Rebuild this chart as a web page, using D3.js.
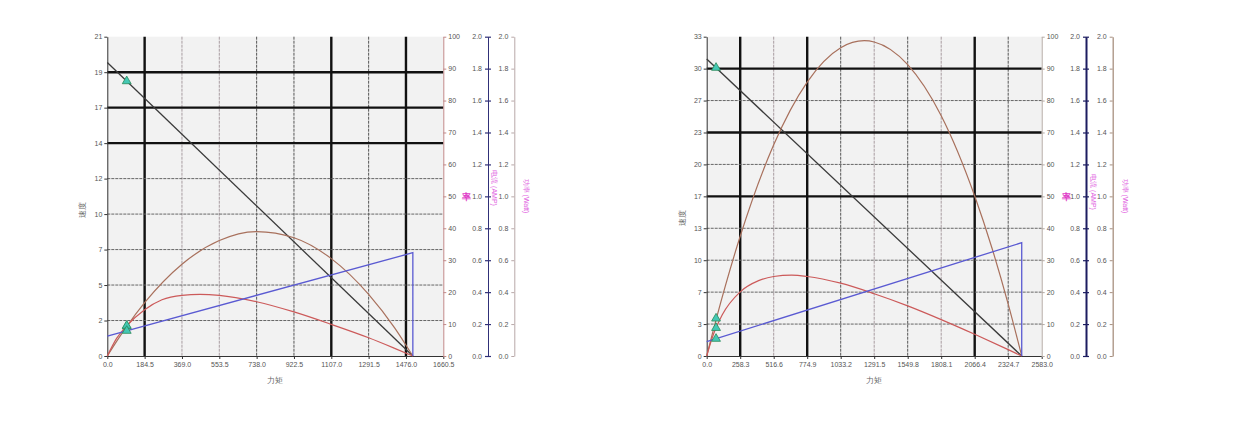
<!DOCTYPE html>
<html><head><meta charset="utf-8">
<script src="https://cdn.jsdelivr.net/npm/d3@7"></script>
<style>body{margin:0;background:#fff;} svg{display:block;} text{font-family:"Liberation Sans",Arial,sans-serif;}</style>
</head><body><svg id="c" width="1240" height="432"></svg>
<script>
// ---------- Chart A data ----------
const aXLabels = ["0.0","184.5","369.0","553.5","738.0","922.5","1107.0","1291.5","1476.0","1660.5"];
const aYLabels = ["0","2","5","7","10","12","14","17","19","21"];
const aXMax = 1660.5;
const aYMax = 21.4;
const aSpeedTorque = [0, 1510];
const aSpeed = [19.67, 0];
const aCurrentTorque = [0, 1510, 1510];
const aCurrent = [0.125, 0.647, 0];
const aPowerTorque = [0, 46, 92, 184.5, 369, 553.5, 738, 922.5, 1107, 1291.5, 1420, 1470, 1510];
const aPower = [0, 0.092, 0.178, 0.334, 0.575, 0.723, 0.779, 0.741, 0.610, 0.386, 0.176, 0.080, 0];
const aEffTorque = [0, 46, 92, 184.5, 270, 369, 458, 553.5, 738, 922.5, 1107, 1291.5, 1420, 1510];
const aEff = [0, 5.5, 9.2, 14.5, 17.6, 19.0, 19.3, 19.0, 17.0, 13.8, 9.9, 5.7, 2.4, 0];
const aMarkTorque = 96;
const aMarkSpeed = 18.42, aMarkPower = 0.186, aMarkEff = 9.5, aMarkCurrent = 0.158;

// ---------- Chart B data ----------
const bXLabels = ["0.0","258.3","516.6","774.9","1033.2","1291.5","1549.8","1808.1","2066.4","2324.7","2583.0"];
const bYLabels = ["0","3","7","10","13","17","20","23","27","30","33"];
const bXMax = 2583.0;
const bYMax = 33.4;
const bSpeedTorque = [0, 2429];
const bSpeed = [31.07, 0];
const bCurrentTorque = [0, 2429, 2429];
const bCurrent = [0.09, 0.71, 0];
const bPowerTorque = [0, 40, 77, 258.3, 516.6, 774.9, 1033.2, 1215, 1291.5, 1549.8, 1808.1, 2066.4, 2200, 2324.7, 2429];
const bPower = [0, 0.128, 0.242, 0.750, 1.323, 1.716, 1.931, 1.975, 1.967, 1.825, 1.505, 1.002, 0.675, 0.325, 0];
const bEffTorque = [0, 40, 120, 258.3, 400, 516.6, 655, 774.9, 1033.2, 1291.5, 1549.8, 1808.1, 2066.4, 2324.7, 2429];
const bEff = [0, 5.4, 12.9, 20.1, 23.6, 24.9, 25.3, 24.9, 22.8, 19.5, 15.7, 11.4, 6.8, 2.0, 0];
const bMarkTorque = 72;
const bMarkSpeed = 30.15, bMarkPower = 0.235, bMarkEff = 8.8, bMarkCurrent = 0.108;

// ---------- shared axis labels ----------
const effLabels = ["0","10","20","30","40","50","60","70","80","90","100"];
const ampLabels = ["0.0","0.2","0.4","0.6","0.8","1.0","1.2","1.4","1.6","1.8","2.0"];
const wattLabels = ["0.0","0.2","0.4","0.6","0.8","1.0","1.2","1.4","1.6","1.8","2.0"];
const txtSpeed = "速度", txtTorque = "力矩", txtEff = "率", txtAmp = "电流 (AMP)", txtWatt = "功率 (Watt)";

const zip = (xs, ys) => xs.map((v, i) => [v, ys[i]]);

const svg = d3.select("#c");

function drawChart(c) {
  const g = svg.append("g");
  const top = 36.7, bottom = 356;
  const x = d3.scaleLinear().domain([0, c.xMax]).range([c.left, c.right]);
  const y = d3.scaleLinear().domain([0, c.yMax]).range([bottom, top]);
  const yEff = d3.scaleLinear().domain([0, 100]).range([bottom, top]);
  const yAmp = d3.scaleLinear().domain([0, 2]).range([bottom, top]);
  const yW = d3.scaleLinear().domain([0, 2]).range([bottom, top]);

  g.append("rect").attr("x", c.left).attr("y", top).attr("width", c.right - c.left).attr("height", bottom - top).attr("fill", "#f2f2f2");

  const xVals = c.xLabels.map((d, i) => i * c.xMax / (c.xLabels.length - 1));
  const yVals = c.yLabels.map((d, i) => i * c.yMax / (c.yLabels.length - 1));

  // grid
  xVals.forEach((v, i) => {
    if (i === 0 || i === xVals.length - 1) return;
    const st = c.vStyle[i];
    g.append("line").attr("x1", x(v)).attr("x2", x(v)).attr("y1", top).attr("y2", bottom)
      .attr("stroke", st === 2 ? "#111" : (st === 1 ? "#555" : "#a89ca0"))
      .attr("stroke-width", st === 2 ? 2.4 : 1)
      .attr("stroke-dasharray", st === 2 ? null : "3,1");
  });
  yVals.forEach((v, i) => {
    if (i === 0 || i === yVals.length - 1) return;
    const st = c.hStyle[i];
    g.append("line").attr("y1", y(v)).attr("y2", y(v)).attr("x1", c.left).attr("x2", c.right)
      .attr("stroke", st === 2 ? "#111" : "#666")
      .attr("stroke-width", st === 2 ? 2.4 : 1)
      .attr("stroke-dasharray", st === 2 ? null : "3,1");
  });

  const styleAxis = (sel, col, w) => {
    sel.selectAll("path").attr("stroke", col).attr("stroke-width", w);
    sel.selectAll("line").attr("stroke", col);
    sel.selectAll("text").attr("fill", "#555").style("font-size", "7px");
  };

  // bottom axis
  const ax = g.append("g").attr("transform", `translate(0,${bottom})`)
    .call(d3.axisBottom(x).tickValues(xVals).tickFormat((d, i) => c.xLabels[i]).tickSizeInner(3).tickSizeOuter(0).tickPadding(3));
  styleAxis(ax, "#333", 1);
  // left axis
  const ay = g.append("g").attr("transform", `translate(${c.left},0)`)
    .call(d3.axisLeft(y).tickValues(yVals).tickFormat((d, i) => c.yLabels[i]).tickSizeInner(3).tickSizeOuter(0).tickPadding(2));
  styleAxis(ay, "#333", 1);
  // efficiency axis
  const effVals = effLabels.map((d, i) => i * 10);
  const ae = g.append("g").attr("transform", `translate(${c.right},0)`)
    .call(d3.axisRight(yEff).tickValues(effVals).tickFormat((d, i) => effLabels[i]).tickSizeInner(3).tickSizeOuter(0).tickPadding(2));
  styleAxis(ae, c.effCol, 1);
  // current axis
  const ampVals = ampLabels.map((d, i) => i * 0.2);
  const aa = g.append("g").attr("transform", `translate(${c.ampX},0)`)
    .call(d3.axisLeft(yAmp).tickValues(ampVals).tickFormat((d, i) => ampLabels[i]).tickSizeInner(3).tickSizeOuter(0).tickPadding(3));
  styleAxis(aa, c.ampCol, c.ampW);
  aa.selectAll(".tick line").attr("x1", 3).attr("stroke-width", 1.2);
  // power axis
  const wVals = wattLabels.map((d, i) => i * 0.2);
  const aw = g.append("g").attr("transform", `translate(${c.wX},0)`)
    .call(d3.axisLeft(yW).tickValues(wVals).tickFormat((d, i) => wattLabels[i]).tickSizeInner(3).tickSizeOuter(0).tickPadding(3));
  styleAxis(aw, c.wCol, c.wW);

  // titles
  g.append("text").attr("x", (c.left + c.right) / 2).attr("y", 383).attr("text-anchor", "middle")
    .attr("fill", "#666").style("font-size", "8px").text(txtTorque);
  g.append("text").attr("transform", `translate(${c.left - 22},${c.speedLabelY}) rotate(-90)`).attr("text-anchor", "middle")
    .attr("fill", "#666").style("font-size", "8px").text(txtSpeed);
  g.append("text").attr("x", c.starX).attr("y", 200).attr("text-anchor", "middle")
    .attr("fill", "#e040c8").style("font-size", "9px").style("font-weight", "bold").text(txtEff);
  g.append("text").attr("transform", `translate(${c.ampLabelX},${c.ampLabelY}) rotate(90)`).attr("text-anchor", "middle")
    .attr("fill", "#e060e0").style("font-size", "7px").text(txtAmp);
  g.append("text").attr("transform", `translate(${c.wLabelX},196) rotate(90)`).attr("text-anchor", "middle")
    .attr("fill", "#e060e0").style("font-size", "7px").text(txtWatt);

  // curves
  const lineS = d3.line().x(d => x(d[0])).y(d => y(d[1]));
  const lineP = d3.line().x(d => x(d[0])).y(d => yW(d[1])).curve(d3.curveMonotoneX);
  const lineE = d3.line().x(d => x(d[0])).y(d => yEff(d[1])).curve(d3.curveMonotoneX);
  const lineC = d3.line().x(d => x(d[0])).y(d => yAmp(d[1]));

  g.append("path").attr("d", lineS(zip(c.speedT, c.speed))).attr("fill", "none").attr("stroke", "#3a3a3a").attr("stroke-width", 1.3);
  g.append("path").attr("d", lineP(zip(c.powerT, c.power))).attr("fill", "none").attr("stroke", "#a8705c").attr("stroke-width", 1.2);
  g.append("path").attr("d", lineE(zip(c.effT, c.eff))).attr("fill", "none").attr("stroke", "#cc5a5a").attr("stroke-width", 1.2);
  g.append("path").attr("d", lineC(zip(c.curT, c.cur))).attr("fill", "none").attr("stroke", "#5a5ad2").attr("stroke-width", 1.3);

  // markers
  const marks = [[c.mT, y(c.mSpeed)], [c.mT, yW(c.mPower)], [c.mT, yEff(c.mEff)], [c.mT, yAmp(c.mCur)]];
  const sym = d3.symbol().type(d3.symbolTriangle).size(34);
  g.selectAll(".mk").data(marks).join("path")
    .attr("transform", d => `translate(${x(d[0])},${d[1]})`).attr("d", sym)
    .attr("fill", "#44c8b4").attr("stroke", "#2a8a5a").attr("stroke-width", 0.8);
}

drawChart({
  left: 107.3, right: 443.3, xMax: aXMax, yMax: aYMax, xLabels: aXLabels, yLabels: aYLabels,
  vStyle: [0, 2, 0, 0, 1, 1, 2, 1, 2, 0], hStyle: [0, 1, 1, 1, 1, 1, 2, 2, 2, 0],
  effCol: "#c08888", ampX: 488, ampCol: "#303078", ampW: 1, wX: 514.3, wCol: "#b8a8a8", wW: 1,
  starX: 466.7, ampLabelX: 491.7, ampLabelY: 188, wLabelX: 524, speedLabelY: 210,
  speedT: aSpeedTorque, speed: aSpeed, curT: aCurrentTorque, cur: aCurrent,
  powerT: aPowerTorque, power: aPower, effT: aEffTorque, eff: aEff,
  mT: aMarkTorque, mSpeed: aMarkSpeed, mPower: aMarkPower, mEff: aMarkEff, mCur: aMarkCurrent
});
drawChart({
  left: 706.7, right: 1041.7, xMax: bXMax, yMax: bYMax, xLabels: bXLabels, yLabels: bYLabels,
  vStyle: [0, 2, 0, 2, 1, 0, 1, 0, 2, 1, 0], hStyle: [0, 1, 1, 1, 1, 2, 1, 2, 1, 2, 0],
  effCol: "#b4aaa4", ampX: 1086, ampCol: "#1c1c60", ampW: 2, wX: 1112.7, wCol: "#a89080", wW: 1.3,
  starX: 1066, ampLabelX: 1091, ampLabelY: 192, wLabelX: 1123, speedLabelY: 218,
  speedT: bSpeedTorque, speed: bSpeed, curT: bCurrentTorque, cur: bCurrent,
  powerT: bPowerTorque, power: bPower, effT: bEffTorque, eff: bEff,
  mT: bMarkTorque, mSpeed: bMarkSpeed, mPower: bMarkPower, mEff: bMarkEff, mCur: bMarkCurrent
});
</script></body></html>
